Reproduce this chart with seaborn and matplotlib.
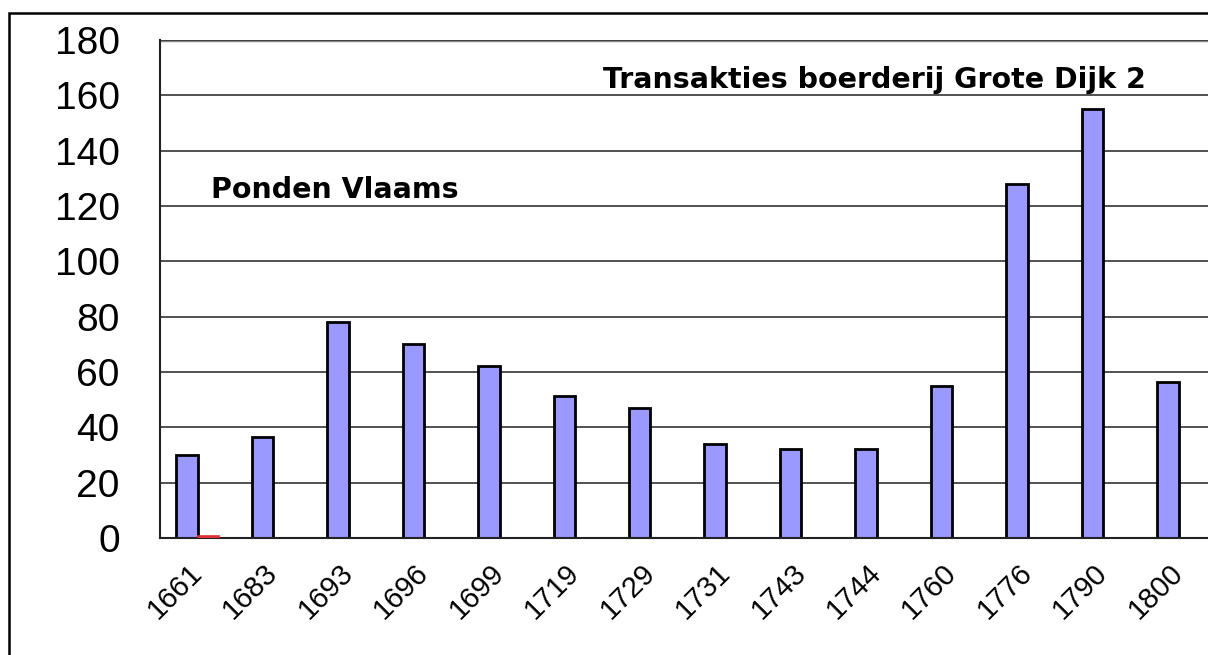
import pandas as pd
import seaborn as sns
import matplotlib
matplotlib.use("Agg")
from matplotlib import pyplot as plt
from matplotlib.patches import Rectangle

# data
years = ["1661", "1683", "1693", "1696", "1699", "1719", "1729",
         "1731", "1743", "1744", "1760", "1776", "1790", "1800"]
ponden = [30, 36.5, 78, 70, 62, 51.3, 47, 34, 32.3, 32.3, 55, 128, 155, 56.4]
tweede = [0.6, 0, 0, 0, 0, 0, 0, 0, 0, 0, 0, 0, 0, 0]
yticks = [0, 20, 40, 60, 80, 100, 120, 140, 160, 180]

df = pd.DataFrame({
    "jaar": years * 2,
    "waarde": ponden + tweede,
    "reeks": ["ponden"] * len(years) + ["tweede"] * len(years),
})

sns.set_style("white")
plt.rcParams["font.family"] = ["Liberation Sans", "DejaVu Sans"]
plt.rcParams["text.color"] = "black"
plt.rcParams["xtick.color"] = "black"
plt.rcParams["ytick.color"] = "black"

W, H = 1208, 655
fig = plt.figure(figsize=(W / 100, H / 100), dpi=100)
ax = fig.add_axes([160 / W, 1 - 538 / H, 14 * 75.46 / W, (538 - 40) / H])

sns.barplot(data=df, x="jaar", y="waarde", hue="reeks", order=years,
            palette={"ponden": "#9999FF", "tweede": "#E03030"},
            width=0.57, gap=0, dodge=True, legend=False, ax=ax,
            saturation=1)

for p in ax.patches:
    if p.get_facecolor()[0] > 0.8:
        if p.get_height() > 0:
            p.set_edgecolor("#E03030")
            p.set_linewidth(1.2)
            p.set_zorder(4)
        else:
            p.set_visible(False)
    else:
        p.set_edgecolor("black")
        p.set_linewidth(2)

ax.set_xlim(-0.5, 13.5)
ax.set_ylim(0, 180)
ax.set_yticks(yticks)
ax.yaxis.grid(True, color="#333333", linewidth=1.2)
ax.set_axisbelow(True)
ax.set_xlabel("")
ax.set_ylabel("")

for s in ["top", "right"]:
    ax.spines[s].set_visible(False)
ax.spines["left"].set_color("#222222")
ax.spines["left"].set_linewidth(1.5)
ax.spines["bottom"].set_color("#222222")
ax.spines["bottom"].set_linewidth(1.5)
ax.axhline(180, color="#888888", linewidth=2.5, zorder=0)

ax.tick_params(axis="y", length=0, pad=29, labelsize=28)
ax.tick_params(axis="x", length=0, pad=22, labelsize=21)
plt.setp(ax.get_xticklabels(), rotation=45, ha="right", va="center",
         rotation_mode="anchor")

fig.text(603 / W, 1 - 80 / H, "Transakties boerderij Grote Dijk 2",
         fontsize=20.5, fontweight="bold", va="center", ha="left",
         family="DejaVu Sans")
fig.text(211 / W, 1 - 190 / H, "Ponden Vlaams",
         fontsize=20.5, fontweight="bold", va="center", ha="left",
         family="DejaVu Sans")

fig.patches.append(Rectangle((9 / W, -0.1), 2, (H - 13) / H + 0.1,
                             transform=fig.transFigure, fill=False,
                             edgecolor="black", linewidth=1.8))

fig.savefig("out.png", dpi=100)
